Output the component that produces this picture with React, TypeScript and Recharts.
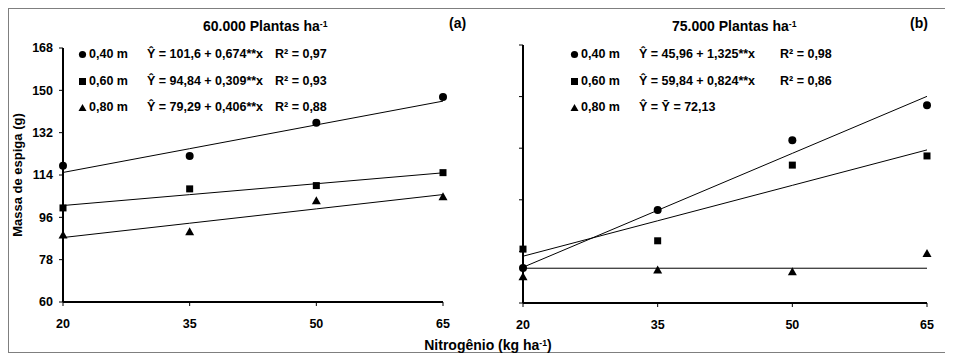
import React from "react";
import { ComposedChart, Line, XAxis, YAxis } from "recharts";

const nitrogen = [20, 35, 50, 65];
const xTicks = [20, 35, 50, 65];

// 60.000 plantas ha-1
const a40 = [117.9, 122.1, 136.2, 147.2];
const a60 = [100, 108.1, 109.5, 115];
const a80 = [88.5, 89.9, 103, 104.8];
const aIntercept = [101.6, 94.84, 79.29];
const aSlope = [0.674, 0.309, 0.406];
const aYTicks = [60, 78, 96, 114, 132, 150, 168];
const aEq = ["Ŷ = 101,6 + 0,674**x", "Ŷ = 94,84 + 0,309**x", "Ŷ = 79,29 + 0,406**x"];
const aR2 = ["R² = 0,97", "R² = 0,93", "R² = 0,88"];

// 75.000 plantas ha-1
const b40 = [72.2, 92.4, 116.8, 129.0];
const b60 = [78.8, 81.7, 108.1, 111.3];
const b80 = [69.2, 71.5, 70.9, 77.3];
const bIntercept = [45.96, 59.84, 72.13];
const bSlope = [1.325, 0.824, 0];
const bYTicks = [60, 78, 96, 114, 132, 150];
const bEq = ["Ŷ = 45,96 + 1,325**x", "Ŷ = 59,84 + 0,824**x", "Ŷ = Ȳ = 72,13"];
const bR2 = ["R² = 0,98", "R² = 0,86", ""];

const spacings = ["0,40 m", "0,60 m", "0,80 m"];

const FONT = "Arial, 'Liberation Sans', sans-serif";

const CircleDot = (p: any) =>
  p.cx == null ? null : <circle key={p.key} cx={p.cx} cy={p.cy} r={4} fill="#000" />;
const SquareDot = (p: any) =>
  p.cx == null ? null : <rect key={p.key} x={p.cx - 3.5} y={p.cy - 3.5} width={7} height={7} fill="#000" />;
const TriDot = (p: any) =>
  p.cx == null ? null : (
    <polygon
      key={p.key}
      points={`${p.cx},${p.cy - 4.5} ${p.cx + 4.5},${p.cy + 3.5} ${p.cx - 4.5},${p.cy + 3.5}`}
      fill="#000"
    />
  );

function buildRows(s40: number[], s60: number[], s80: number[], ic: number[], sl: number[]) {
  return nitrogen.map((n, i) => ({
    n,
    s40: s40[i],
    s60: s60[i],
    s80: s80[i],
    f40: ic[0] + sl[0] * n,
    f60: ic[1] + sl[1] * n,
    f80: ic[2] + sl[2] * n,
  }));
}

const Sup = ({ children }: { children: React.ReactNode }) => (
  <span style={{ fontSize: "0.62em", position: "relative", top: "-0.45em" }}>{children}</span>
);

function Marker({ kind }: { kind: number }) {
  return (
    <svg width={9} height={9} style={{ position: "absolute", left: -5, top: -4 }}>
      {kind === 0 && <circle cx={4.5} cy={4.5} r={3.6} fill="#000" />}
      {kind === 1 && <rect x={1} y={1} width={7} height={7} fill="#000" />}
      {kind === 2 && <polygon points="4.5,1 8.5,8 0.5,8" fill="#000" />}
    </svg>
  );
}

const OFF = 9;

function LegendBlock({ mx, ex, rx, eqs, r2s }: { mx: number; ex: number; rx: number; eqs: string[]; r2s: string[] }) {
  const ys = [54, 81, 107];
  const txt: React.CSSProperties = {
    position: "absolute",
    fontFamily: FONT,
    fontWeight: 700,
    fontSize: 12.5,
    lineHeight: "14px",
    whiteSpace: "nowrap",
    color: "#000",
  };
  return (
    <>
      {ys.map((y, i) => (
        <React.Fragment key={i}>
          <div style={{ position: "absolute", left: mx - OFF, top: y - OFF }}>
            <Marker kind={i} />
          </div>
          <div style={{ ...txt, left: mx + 6 - OFF, top: y - 7 - OFF }}>{spacings[i]}</div>
          <div style={{ ...txt, left: ex - OFF, top: y - 7 - OFF }}>{eqs[i]}</div>
          <div style={{ ...txt, left: rx - OFF, top: y - 7 - OFF }}>{r2s[i]}</div>
        </React.Fragment>
      ))}
    </>
  );
}

function Panel({
  rows,
  yTicks,
  domain,
  left,
  top,
  width,
  height,
  margin,
  yWidth,
  showYLabels,
}: {
  rows: any[];
  yTicks: number[];
  domain: [number, number];
  left: number;
  top: number;
  width: number;
  height: number;
  margin: any;
  yWidth: number;
  showYLabels: boolean;
}) {
  const tick = { fill: "#000", fontSize: 12.5, fontWeight: 700, fontFamily: FONT };
  return (
    <div style={{ position: "absolute", left: left - OFF, top: top - OFF }}>
      <ComposedChart width={width} height={height} data={rows} margin={margin}>
        <XAxis
          dataKey="n"
          type="number"
          domain={[20, 65]}
          ticks={xTicks}
          axisLine={{ stroke: "#000", strokeWidth: 2 }}
          tickLine={{ stroke: "#000", strokeWidth: 1 }}
          tickSize={4}
          tickMargin={13}
          tick={tick}
          height={35}
          interval={0}
        />
        <YAxis
          type="number"
          domain={domain}
          ticks={yTicks}
          axisLine={{ stroke: "#000", strokeWidth: 2 }}
          tickLine={{ stroke: "#000", strokeWidth: 1 }}
          tickSize={4}
          tickMargin={6}
          tick={tick}
          tickFormatter={(v: number) => (showYLabels ? String(v) : "")}
          width={yWidth}
          interval={0}
          allowDataOverflow
        />
        <Line dataKey="f40" stroke="#000" strokeWidth={1} dot={false} activeDot={false} isAnimationActive={false} />
        <Line dataKey="f60" stroke="#000" strokeWidth={1} dot={false} activeDot={false} isAnimationActive={false} />
        <Line dataKey="f80" stroke="#000" strokeWidth={1} dot={false} activeDot={false} isAnimationActive={false} />
        <Line dataKey="s40" stroke="none" dot={CircleDot} activeDot={false} isAnimationActive={false} />
        <Line dataKey="s60" stroke="none" dot={SquareDot} activeDot={false} isAnimationActive={false} />
        <Line dataKey="s80" stroke="none" dot={TriDot} activeDot={false} isAnimationActive={false} />
      </ComposedChart>
    </div>
  );
}

export default function App() {
  const rowsA = buildRows(a40, a60, a80, aIntercept, aSlope);
  const rowsB = buildRows(b40, b60, b80, bIntercept, bSlope);
  const label: React.CSSProperties = {
    position: "absolute",
    fontFamily: FONT,
    fontWeight: 700,
    fontSize: 14,
    lineHeight: "16px",
    whiteSpace: "nowrap",
    color: "#000",
  };
  return (
    <div
      style={{
        position: "relative",
        width: 943,
        height: 345,
        border: "1px solid #7f7f7f",
        boxSizing: "border-box",
        background: "#fff",
      }}
    >
      <Panel
        rows={rowsA}
        yTicks={aYTicks}
        domain={[60, 168]}
        left={18}
        top={40}
        width={442}
        height={297}
        margin={{ top: 8, right: 17, left: 0, bottom: 0 }}
        yWidth={45}
        showYLabels
      />
      <Panel
        rows={rowsB}
        yTicks={bYTicks}
        domain={[60, 150]}
        left={480}
        top={40}
        width={460}
        height={298}
        margin={{ top: 5, right: 13, left: 0, bottom: 0 }}
        yWidth={43}
        showYLabels={false}
      />

      <div style={{ ...label, left: 203 - OFF, top: 18 - OFF }}>
        60.000 Plantas ha<Sup>-1</Sup>
      </div>
      <div style={{ ...label, left: 449 - OFF, top: 15 - OFF }}>(a)</div>
      <div style={{ ...label, left: 672 - OFF, top: 18 - OFF }}>
        75.000 Plantas ha<Sup>-1</Sup>
      </div>
      <div style={{ ...label, left: 910 - OFF, top: 15 - OFF }}>(b)</div>

      <LegendBlock mx={83} ex={147} rx={275} eqs={aEq} r2s={aR2} />
      <LegendBlock mx={575} ex={639} rx={780} eqs={bEq} r2s={bR2} />

      <div
        style={{
          ...label,
          width: 200,
          textAlign: "center",
          left: 18 - 100 - OFF,
          top: 175 - 8 - OFF,
          transform: "rotate(-90deg)",
          fontSize: 13,
        }}
      >
        Massa de espiga (g)
      </div>
      <div style={{ ...label, width: 200, textAlign: "center", left: 488 - 100 - OFF, top: 337 - OFF }}>
        Nitrogênio (kg ha<Sup>-1</Sup>)
      </div>
    </div>
  );
}
